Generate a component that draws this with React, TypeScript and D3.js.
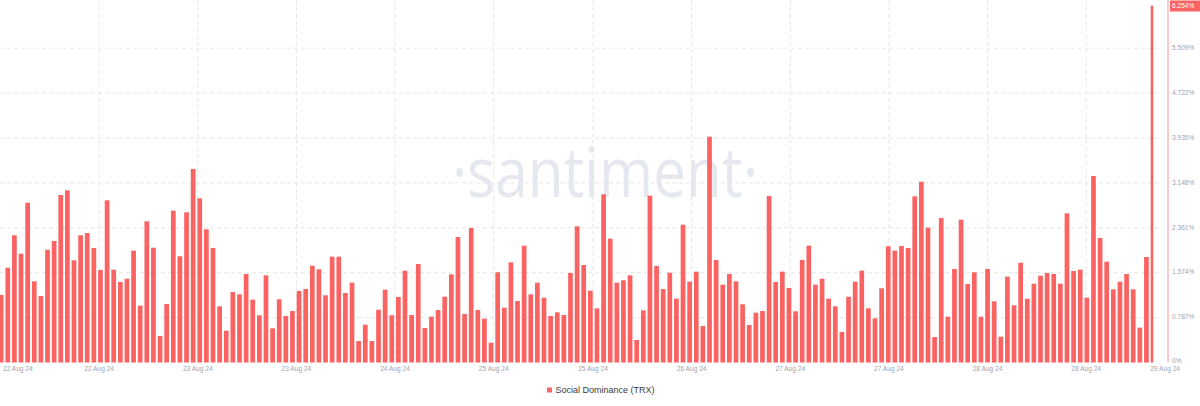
import React from "react";
import * as d3 from "d3";

// Social Dominance (TRX), hourly, %
const dominance: number[] = [
  1.183, 1.662, 2.230, 1.907, 2.801, 1.423, 1.166, 1.977, 2.130, 2.936,
  3.018, 1.791, 2.230, 2.270, 2.007, 1.621, 2.843, 1.627, 1.411, 1.469,
  1.960, 0.996, 2.475, 2.012, 0.465, 1.025, 2.661, 1.862, 2.633, 3.392,
  2.878, 2.335, 2.007, 0.985, 0.557, 1.236, 1.195, 1.551, 1.101, 0.827,
  1.528, 0.599, 1.108, 0.815, 0.903, 1.253, 1.288, 1.697, 1.634, 1.178,
  1.855, 1.855, 1.218, 1.399, 0.377, 0.663, 0.377, 0.925, 1.276, 0.827,
  1.148, 1.609, 0.833, 1.727, 0.605, 0.803, 0.920, 1.153, 1.546, 2.200,
  0.850, 2.358, 0.920, 0.768, 0.347, 1.581, 0.961, 1.756, 1.078, 2.047,
  1.195, 1.399, 1.136, 0.815, 0.880, 0.833, 1.569, 2.387, 1.709, 1.259,
  0.950, 2.948, 2.170, 1.399, 1.441, 1.528, 0.394, 0.915, 2.924, 1.692,
  1.288, 1.574, 1.118, 2.415, 1.416, 1.592, 0.640, 3.958, 1.797, 1.364,
  1.551, 1.423, 1.020, 0.657, 0.873, 0.903, 2.918, 1.411, 1.592, 1.306,
  0.897, 1.797, 2.047, 1.364, 1.469, 1.118, 0.985, 0.535, 1.153, 1.416,
  1.609, 0.950, 0.775, 1.301, 2.037, 1.960, 2.042, 2.007, 2.913, 3.169,
  2.363, 0.447, 2.533, 0.803, 1.639, 2.503, 1.376, 1.581, 0.803, 1.639,
  1.073, 0.452, 1.504, 1.003, 1.749, 1.118, 1.381, 1.521, 1.569, 1.551,
  1.381, 2.615, 1.604, 1.627, 1.136, 3.269, 2.182, 1.767, 1.283, 1.416,
  1.551, 1.283, 0.610, 1.849, 6.254,
];

const yTicks: number[] = [0, 0.787, 1.574, 2.361, 3.148, 3.935, 4.722, 5.509];
const yTickLabels: string[] = ["0%", "0.787%", "1.574%", "2.361%", "3.148%", "3.935%", "4.722%", "5.509%"];
const yMax = 6.296;
const lastValueLabel = "6.254%";

const xTickLabels: string[] = [
  "22 Aug 24", "22 Aug 24", "23 Aug 24", "23 Aug 24", "24 Aug 24", "25 Aug 24",
  "25 Aug 24", "26 Aug 24", "27 Aug 24", "27 Aug 24", "28 Aug 24", "28 Aug 24", "29 Aug 24",
];
// tick positions in hours (bar index units) from the first bar
const xTickHours: number[] = [0, 14.8, 29.7, 44.6, 59.5, 74.4, 89.4, 104.3, 119.2, 134.1, 149.0, 163.9, 174];

const seriesName = "Social Dominance (TRX)";

const BAR = "#fb6262";
const GRID = "#e6e6e6";
const AXIS_TEXT = "#9ea4b0";
const FONT = "'Liberation Sans', Arial, sans-serif";

export default function App() {
  const W = 1200;
  const H = 406;
  const plotRight = 1153.3;
  const axisX = 1168;
  const n = dominance.length;

  const xBand = d3
    .scaleBand<number>()
    .domain(d3.range(n))
    .range([-2.14, 1156.36])
    .paddingInner(0.29)
    .paddingOuter(0.145);
  const bw = xBand.bandwidth();
  const xIdx = d3
    .scaleLinear()
    .domain([0, n - 1])
    .range([(xBand(0) as number) + bw / 2, (xBand(n - 1) as number) + bw / 2]);

  const y = d3.scaleLinear().domain([0, yMax]).range([362.5, 3.3]);

  const lastY = y(dominance[n - 1]);

  return (
    <>
      <style>{`body{margin:0;background:#fff}`}</style>
      <svg width={W} height={H} style={{ display: "block" }} fontFamily={FONT}>
        <defs>
          <clipPath id="plotClip">
            <rect x={0} y={0} width={plotRight} height={H} />
          </clipPath>
        </defs>

        {/* horizontal grid */}
        {yTicks.slice(1).map((t, i) => (
          <line
            key={"hg" + i}
            x1={0}
            x2={1160}
            y1={y(t)}
            y2={y(t)}
            stroke={GRID}
            strokeDasharray="4 3"
          />
        ))}
        {/* vertical grid */}
        {xTickHours.slice(1, -1).map((h, i) => (
          <line
            key={"vg" + i}
            x1={xIdx(h)}
            x2={xIdx(h)}
            y1={0}
            y2={y(0)}
            stroke={GRID}
            strokeDasharray="4 3"
          />
        ))}

        {/* watermark */}
        <text
          x={605}
          y={197}
          textAnchor="middle"
          fontSize={70}
          fontFamily="'Open Sans', 'Noto Sans', sans-serif"
          fill="#e5e8ef"
          textLength={306}
          lengthAdjust="spacingAndGlyphs"
        >
          ·santiment·
        </text>

        {/* bars */}
        <g clipPath="url(#plotClip)">
          {dominance.map((v, i) => (
            <rect
              key={i}
              x={xBand(i)}
              y={y(v)}
              width={bw}
              height={y(0) - y(v)}
              fill={BAR}
            />
          ))}
        </g>

        {/* right axis */}
        <line x1={axisX} x2={axisX} y1={0} y2={y(0)} stroke="#f29a9a" strokeWidth={1} />
        {yTicks.map((t, i) => (
          <text
            key={"yt" + i}
            x={axisX + 4}
            y={i === 0 ? y(t) - 1 : y(t)}
            dominantBaseline="middle"
            fontSize={6.6}
            fill={AXIS_TEXT}
          >
            {yTickLabels[i]}
          </text>
        ))}
        <rect x={axisX + 2} y={Math.max(0.5, lastY - 5.5)} width={30} height={11} fill={BAR} />
        <text
          x={axisX + 4}
          y={Math.max(0.5, lastY - 5.5) + 5.8}
          dominantBaseline="middle"
          fontSize={6.6}
          fill="#ffffff"
        >
          {lastValueLabel}
        </text>

        {/* x axis labels */}
        {xTickLabels.map((lab, i) => {
          const first = i === 0;
          const last = i === xTickLabels.length - 1;
          return (
            <text
              key={"xt" + i}
              x={first ? 3 : last ? 1180 : xIdx(xTickHours[i])}
              y={371}
              textAnchor={first ? "start" : last ? "end" : "middle"}
              fontSize={6.6}
              fill={AXIS_TEXT}
            >
              {lab}
            </text>
          );
        })}

        {/* legend */}
        <rect x={547} y={387.5} width={5} height={5} fill={BAR} />
        <text x={555.5} y={390.5} dominantBaseline="middle" fontSize={9} fill="#3a3a3a">
          {seriesName}
        </text>
      </svg>
    </>
  );
}
